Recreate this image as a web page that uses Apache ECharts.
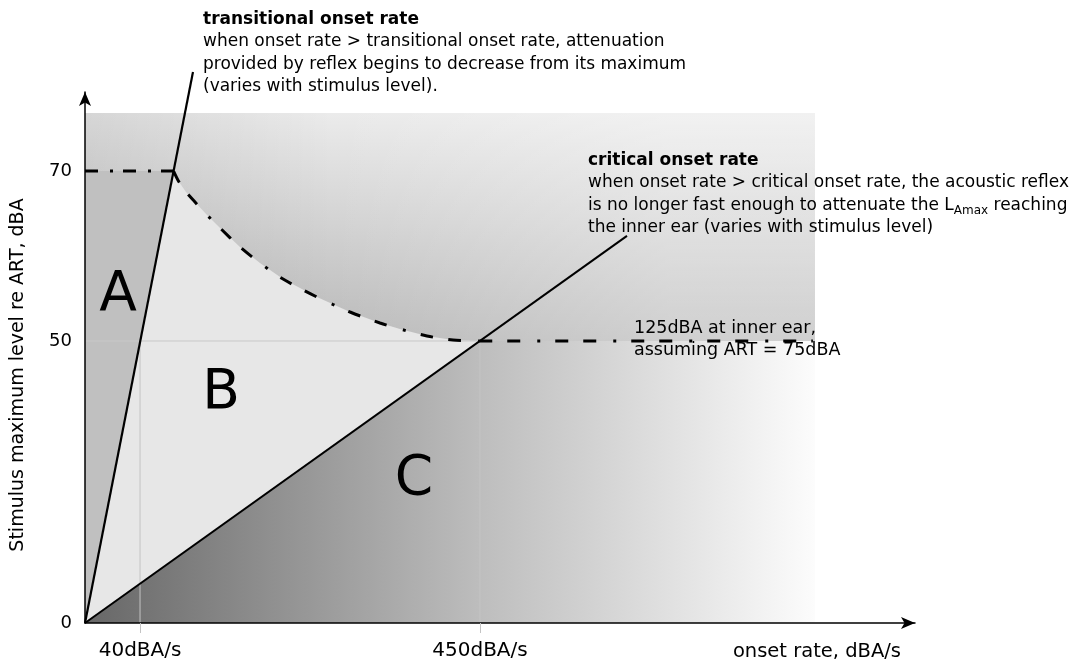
<!DOCTYPE html>
<html>
<head>
<meta charset="utf-8">
<script src="https://cdn.jsdelivr.net/npm/echarts@6/dist/echarts.min.js"></script>
<style>
  html, body { margin: 0; padding: 0; background: #ffffff; }
  #chart { width: 1073px; height: 665px; }
</style>
</head>
<body>
<div id="chart"></div>
<script>
// Schematic axes: both run 0–100 "diagram units" across the plot area;
// the labelled levels and rates sit at the positions listed here.
const xTickValues = [6.63, 47.59];
const xTickLabels = ['40dBA/s', '450dBA/s'];
const yTickValues = [0, 53.11, 85.12];
const yTickLabels = ['0', '50', '70'];

// Key levels (diagram units)
const levelY50 = 53.11;   // 125 dBA at inner ear
const levelY70 = 85.12;   // maximum attenuation limit
const rateX40 = 6.63;
const rateX450 = 47.59;
const bandTop = 96.05;
const bandRight = 87.95;

// Onset-rate boundaries, both starting at the origin
const transitionalLine = [[0, 0], [13.01, 103.77]];
const criticalLine = [[0, 0], [65.3, 72.9]];

// Upper limit of region B: flat at 70, then falling towards 50
const maxLevelLine = [[0, 85.12], [10.67, 85.12]];
const attenuationCurve = [
  [10.67, 85.12], [11.33, 83.05], [12.17, 81.17], [13.25, 79.28],
  [14.70, 76.84], [16.27, 74.39], [18.67, 70.81], [21.08, 67.80],
  [23.86, 64.78], [27.95, 61.39], [31.93, 58.57], [35.54, 56.50],
  [37.95, 55.37], [41.20, 54.05], [44.34, 53.30], [47.50, 53.11]
];
const innerEarLine = [[47.50, 53.11], [87.70, 53.11]];

// Filled regions
const regionA = [[0, 0], [0, levelY70], [10.67, levelY70]];
const regionB = [[0, 0]].concat(attenuationCurve);
const upperBand = [[0, levelY50], [0, bandTop], [bandRight, bandTop], [bandRight, levelY50]];
const lowerBand = [[0, 0], [0, levelY50], [bandRight, levelY50], [bandRight, 0]];

// Thin guides from the tick marks up to the 50 level
const guide40 = [[rateX40, 0], [rateX40, levelY50]];
const guide450 = [[rateX450, 0], [rateX450, levelY50]];
const guide50 = [[0, levelY50], [47.50, levelY50]];

const FONT = 'DejaVu Sans';

function areaSeries(name, points, fill) {
  return {
    type: 'custom',
    name: name,
    silent: true,
    data: [[0, 0]],
    renderItem: function (params, api) {
      return {
        type: 'polygon',
        shape: { points: points.map(function (p) { return api.coord(p); }) },
        style: { fill: fill }
      };
    }
  };
}

function lineSeries(name, data, style, smooth) {
  return {
    type: 'line',
    name: name,
    data: data,
    symbol: 'none',
    silent: true,
    clip: false,
    smooth: smooth || false,
    animation: false,
    lineStyle: style
  };
}

function label(text, x, y, style) {
  return {
    type: 'text', x: x, y: y, z: 100, silent: true,
    style: Object.assign({ text: text, fontFamily: FONT, fill: '#000000' }, style)
  };
}

const dashDot = [13, 15, 13, 17, 3, 15];

const chart = echarts.init(document.getElementById('chart'), null, { renderer: 'canvas' });

chart.setOption({
  animation: false,
  backgroundColor: '#ffffff',
  grid: { left: 85, top: 92, width: 830, height: 531 },
  xAxis: {
    type: 'value',
    min: 0,
    max: 100,
    z: 10,
    axisLine: {
      show: true,
      symbol: ['none', 'arrow'],
      symbolSize: [9, 14],
      lineStyle: { color: '#000000', width: 1.5 }
    },
    axisTick: {
      show: true,
      customValues: xTickValues,
      length: 10,
      lineStyle: { color: '#c4c4c4', width: 1 }
    },
    axisLabel: {
      customValues: xTickValues,
      formatter: function (v) { return xTickLabels[xTickValues.indexOf(v)]; },
      margin: 18,
      fontSize: 20,
      fontFamily: FONT,
      color: '#000000'
    },
    splitLine: { show: false },
    name: 'onset rate, dBA/s',
    nameLocation: 'end',
    nameGap: -14,
    nameTextStyle: {
      align: 'right',
      verticalAlign: 'top',
      padding: [19, 0, 0, 0],
      fontSize: 19.5,
      fontFamily: FONT,
      color: '#000000'
    }
  },
  yAxis: {
    type: 'value',
    min: 0,
    max: 100,
    z: 10,
    axisLine: {
      show: true,
      symbol: ['none', 'arrow'],
      symbolSize: [9, 14],
      lineStyle: { color: '#000000', width: 1.5 }
    },
    axisTick: { show: false },
    axisLabel: {
      customValues: yTickValues,
      formatter: function (v) { return yTickLabels[yTickValues.indexOf(v)]; },
      margin: 13,
      fontSize: 18,
      fontFamily: FONT,
      color: '#000000'
    },
    splitLine: { show: false },
    name: 'Stimulus maximum level re ART, dBA',
    nameLocation: 'middle',
    nameGap: 57,
    nameRotate: 90,
    nameTextStyle: {
      fontSize: 19,
      fontFamily: FONT,
      color: '#000000',
      padding: [0, 35, 0, 0]
    }
  },
  series: [
    areaSeries('upper band', upperBand, {
      type: 'linear', x: 0, y: 0, x2: 0, y2: 1,
      colorStops: [{ offset: 0, color: '#ebebeb' }, { offset: 1, color: '#b9b9b9' }]
    }),
    areaSeries('upper band left shade', upperBand, {
      type: 'linear', x: 0, y: 0, x2: 1, y2: 0,
      colorStops: [
        { offset: 0, color: 'rgba(0,0,0,0.09)' },
        { offset: 0.34, color: 'rgba(0,0,0,0)' },
        { offset: 1, color: 'rgba(0,0,0,0)' }
      ]
    }),
    areaSeries('upper band right glow', upperBand, {
      type: 'linear', x: 0, y: 0, x2: 1, y2: 0,
      colorStops: [
        { offset: 0, color: 'rgba(255,255,255,0)' },
        { offset: 0.34, color: 'rgba(255,255,255,0)' },
        { offset: 0.8, color: 'rgba(255,255,255,0.32)' },
        { offset: 1, color: 'rgba(255,255,255,0.32)' }
      ]
    }),
    areaSeries('region C', lowerBand, {
      type: 'linear', x: 0, y: 0, x2: 1, y2: 0,
      colorStops: [
        { offset: 0, color: '#676767' },
        { offset: 0.54, color: '#bdbdbd' },
        { offset: 0.84, color: '#e6e6e6' },
        { offset: 1, color: '#fcfcfc' }
      ]
    }),
    areaSeries('region B', regionB, '#e7e7e7'),
    areaSeries('region A', regionA, '#c0c0c0'),
    lineSeries('guide 40', guide40, { color: '#c4c4c4', width: 1 }),
    lineSeries('guide 450', guide450, { color: '#c4c4c4', width: 1 }),
    lineSeries('guide 50', guide50, { color: '#c8c8c8', width: 1 }),
    lineSeries('transitional onset rate', transitionalLine, { color: '#000000', width: 2.2 }),
    lineSeries('critical onset rate', criticalLine, { color: '#000000', width: 2 }),
    lineSeries('70 level', maxLevelLine, { color: '#000000', width: 3, type: [13, 12, 3, 10], cap: 'butt' }),
    lineSeries('attenuation limit', attenuationCurve, { color: '#000000', width: 3, type: dashDot, cap: 'butt' }, 0.3),
    lineSeries('inner ear limit', innerEarLine, { color: '#000000', width: 3, type: dashDot, cap: 'butt' })
  ],
  graphic: [
    label('{b|transitional onset rate}\nwhen onset rate > transitional onset rate, attenuation\nprovided by reflex begins to decrease from its maximum\n(varies with stimulus level).', 203, 8, {
      fontSize: 17, lineHeight: 22.5, align: 'left', verticalAlign: 'top',
      rich: { b: { fontWeight: 'bold', fontSize: 17, fontFamily: FONT, lineHeight: 22.5 } }
    }),
    label('{b|critical onset rate}\nwhen onset rate > critical onset rate, the acoustic reflex\nis no longer fast enough to attenuate the L{sub|Amax} reaching\nthe inner ear (varies with stimulus level)', 588, 149, {
      fontSize: 17, lineHeight: 22.5, align: 'left', verticalAlign: 'top',
      rich: {
        b: { fontWeight: 'bold', fontSize: 17, fontFamily: FONT, lineHeight: 22.5 },
        sub: { fontSize: 12, fontFamily: FONT, lineHeight: 10, verticalAlign: 'bottom' }
      }
    }),
    label('125dBA at inner ear,\nassuming ART = 75dBA', 634, 317, {
      fontSize: 17.5, lineHeight: 22.5, align: 'left', verticalAlign: 'top'
    }),
    label('A', 118, 296, { fontSize: 55, align: 'center', verticalAlign: 'middle' }),
    label('B', 221, 394, { fontSize: 55, align: 'center', verticalAlign: 'middle' }),
    label('C', 414, 480, { fontSize: 55, align: 'center', verticalAlign: 'middle' })
  ]
});
</script>
</body>
</html>
